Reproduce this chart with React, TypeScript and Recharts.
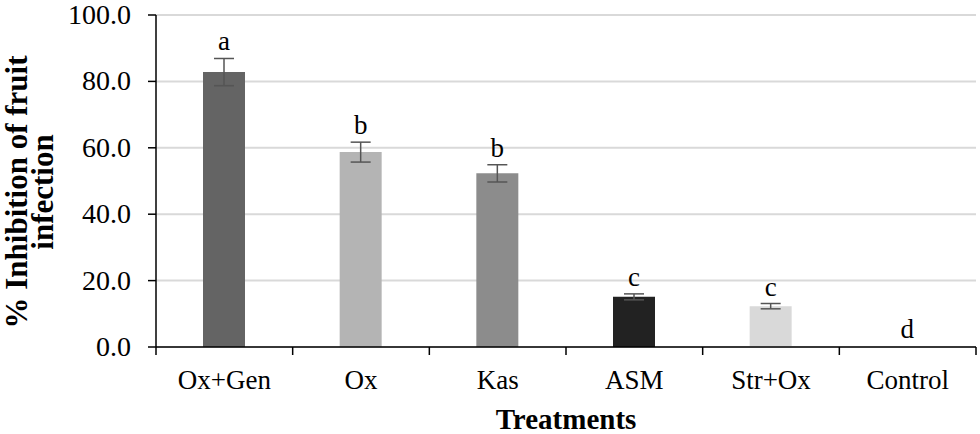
import { BarChart, Bar, XAxis, YAxis, CartesianGrid, ErrorBar, LabelList, Cell } from "recharts";

const treatments = ["Ox+Gen", "Ox", "Kas", "ASM", "Str+Ox", "Control"];
const inhibition = [82.8, 58.7, 52.3, 15.1, 12.3, 0];
const stdErr = [4.1, 3.0, 2.6, 0.9, 0.8, 0];
const letters = ["a", "b", "b", "c", "c", "d"];
const barColors = ["#646464", "#b4b4b4", "#8c8c8c", "#222222", "#d9d9d9", "#ffffff"];
const yTicks = [0, 20, 40, 60, 80, 100];

const data = treatments.map((name, i) => ({
  name,
  value: inhibition[i],
  err: stdErr[i],
  letter: letters[i],
}));

const FONT = "Liberation Serif";
const W = 980;
const H = 434;
const MARGIN = { top: 15, right: 4, bottom: 0, left: 0 };
const Y_WIDTH = 156;
const STEP = (W - MARGIN.right - Y_WIDTH) / treatments.length;

const XTick = (props: any) => {
  const { x, y, payload, index } = props;
  const top = y - 8;
  return (
    <g>
      <line x1={x - STEP / 2} y1={top} x2={x - STEP / 2} y2={top + 8} stroke="#000" strokeWidth={1.5} />
      {index === treatments.length - 1 && (
        <line x1={x + STEP / 2} y1={top} x2={x + STEP / 2} y2={top + 8} stroke="#000" strokeWidth={1.5} />
      )}
      <text x={x} y={top + 42} textAnchor="middle" style={{ fontFamily: FONT }} fontSize={27} fill="#000">
        {payload.value}
      </text>
    </g>
  );
};

const YTick = (props: any) => {
  const { x, y, payload } = props;
  return (
    <text x={x} y={y + 9} textAnchor="end" style={{ fontFamily: FONT }} fontSize={28} fill="#000">
      {Number(payload.value).toFixed(1)}
    </text>
  );
};

const YLabel = () => (
  <g transform="rotate(-90)">
    <text x={-192} y={27} textAnchor="middle" style={{ fontFamily: FONT }} fontSize={31} fontWeight="bold" fill="#000">
      % Inhibition of fruit
    </text>
    <text x={-192} y={53} textAnchor="middle" style={{ fontFamily: FONT }} fontSize={31} fontWeight="bold" fill="#000">
      infection
    </text>
  </g>
);

export default function App() {
  return (
    <div style={{ position: "absolute", left: 0, top: 0, width: W, height: H, background: "#fff" }}>
      <BarChart width={W} height={H} data={data} margin={MARGIN} barSize={42}>
        <CartesianGrid vertical={false} stroke="#d9d9d9" strokeWidth={2} />
        <XAxis
          dataKey="name"
          axisLine={{ stroke: "#000", strokeWidth: 1.5 }}
          tickLine={false}
          tick={<XTick />}
          height={87}
          interval={0}
          label={{
            value: "Treatments",
            position: "insideBottom",
            offset: 5,
            style: { fontFamily: FONT },
            fontSize: 29,
            fontWeight: "bold",
            fill: "#000",
          }}
        />
        <YAxis
          width={Y_WIDTH}
          domain={[0, 100]}
          ticks={yTicks}
          axisLine={{ stroke: "#000", strokeWidth: 1.5 }}
          tickLine={{ stroke: "#000", strokeWidth: 1.5 }}
          tickSize={8}
          tickMargin={17}
          tick={<YTick />}
        />
        <Bar dataKey="value" stackId="s" isAnimationActive={false}>
          {data.map((d, i) => (
            <Cell key={d.name} fill={barColors[i]} />
          ))}
          <ErrorBar dataKey="err" width={10} stroke="#555" strokeWidth={1.5} direction="y" />
        </Bar>
        <Bar dataKey="err" stackId="s" fill="transparent" minPointSize={1} isAnimationActive={false}>
          <LabelList
            dataKey="letter"
            position="top"
            offset={8}
            style={{ fontFamily: FONT, fontSize: 27, fill: "#000" }}
          />
        </Bar>
      </BarChart>
      <svg width={70} height={H} style={{ position: "absolute", left: 0, top: 0 }}>
        <YLabel />
      </svg>
    </div>
  );
}
